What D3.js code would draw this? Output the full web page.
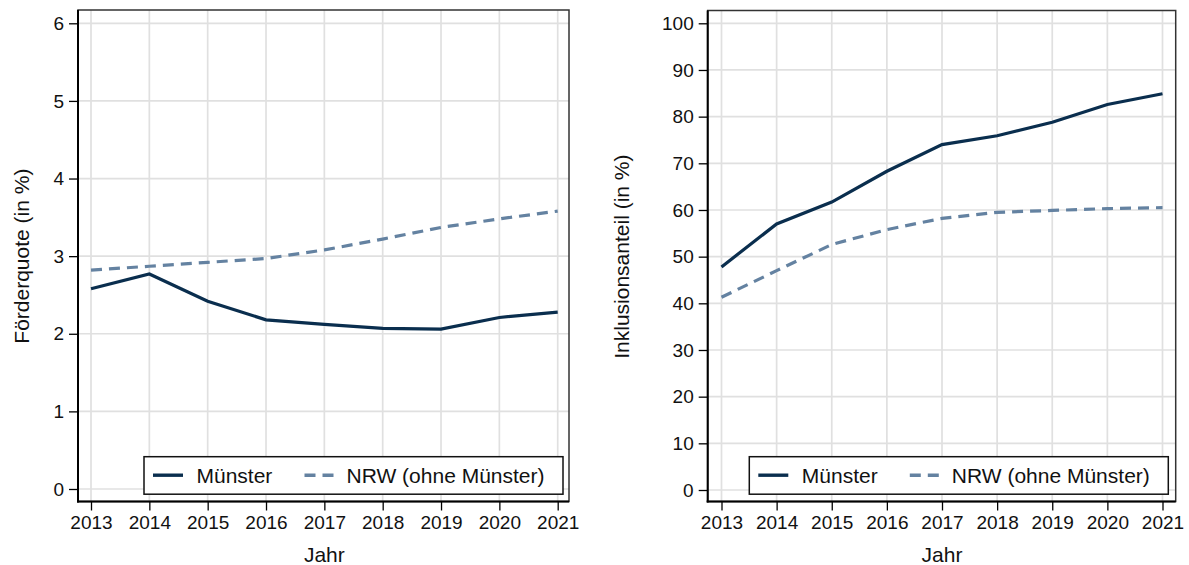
<!DOCTYPE html>
<html>
<head>
<meta charset="utf-8">
<script src="https://cdn.jsdelivr.net/npm/d3@7"></script>
<style>
  html, body { margin: 0; padding: 0; background: #fff; }
  svg { display: block; font-family: "Liberation Sans", Arial, sans-serif; }
</style>
</head>
<body>
<svg id="chart" width="1189" height="565"></svg>
<script>
const years = [2013, 2014, 2015, 2016, 2017, 2018, 2019, 2020, 2021];
const seriesNames = ["Münster", "NRW (ohne Münster)"];

const foerderMuenster = [2.58, 2.77, 2.42, 2.18, 2.12, 2.07, 2.06, 2.21, 2.28];
const foerderNRW      = [2.82, 2.87, 2.92, 2.97, 3.08, 3.22, 3.37, 3.48, 3.58];
const foerderTicks    = [0, 1, 2, 3, 4, 5, 6];

const inklMuenster = [47.8, 57.0, 61.7, 68.3, 74.0, 75.9, 78.8, 82.6, 84.9];
const inklNRW      = [41.3, 47.0, 52.6, 55.8, 58.2, 59.5, 59.9, 60.3, 60.5];
const inklTicks    = [0, 10, 20, 30, 40, 50, 60, 70, 80, 90, 100];

const xTitle = "Jahr";
const yTitles = ["Förderquote (in %)", "Inklusionsanteil (in %)"];

const colMuenster = "#0a2e4e";
const colNRW = "#6482a1";
const tickFont = 19;
const labelFont = 21;

const svg = d3.select("#chart");

function panel(cfg) {
  const g = svg.append("g");
  const x = d3.scaleLinear().domain([2013, 2021]).range([cfg.x0, cfg.x1]);
  const y = d3.scaleLinear().domain([0, cfg.ymax]).range([cfg.y0, cfg.y1]);

  // gridlines
  g.append("g").selectAll("line").data(years).join("line")
    .attr("x1", d => x(d)).attr("x2", d => x(d))
    .attr("y1", cfg.top).attr("y2", cfg.bottom)
    .attr("stroke", "#e0e0e0").attr("stroke-width", 1.7);
  g.append("g").selectAll("line").data(cfg.ticks).join("line")
    .attr("x1", cfg.left).attr("x2", cfg.right)
    .attr("y1", d => y(d)).attr("y2", d => y(d))
    .attr("stroke", "#e0e0e0").attr("stroke-width", 1.7);

  // lines
  const line = d3.line().x((d, i) => x(years[i])).y(d => y(d));
  g.append("path").datum(cfg.nrw).attr("d", line)
    .attr("fill", "none").attr("stroke", colNRW).attr("stroke-width", 3.2)
    .attr("stroke-dasharray", "11,7");
  g.append("path").datum(cfg.ms).attr("d", line)
    .attr("fill", "none").attr("stroke", colMuenster).attr("stroke-width", 3.2);

  // frame
  g.append("rect").attr("x", cfg.left).attr("y", cfg.top)
    .attr("width", cfg.right - cfg.left).attr("height", cfg.bottom - cfg.top)
    .attr("fill", "none").attr("stroke", "#333").attr("stroke-width", 1.5);
  g.append("line").attr("x1", cfg.left).attr("x2", cfg.left)
    .attr("y1", cfg.top).attr("y2", cfg.bottom + 1)
    .attr("stroke", "#000").attr("stroke-width", 2);
  g.append("line").attr("x1", cfg.left - 1).attr("x2", cfg.right)
    .attr("y1", cfg.bottom).attr("y2", cfg.bottom)
    .attr("stroke", "#000").attr("stroke-width", 2);

  // axes
  const yAxis = d3.axisLeft(y).tickValues(cfg.ticks).tickSize(9).tickPadding(5)
    .tickFormat(d3.format("d"));
  const ya = g.append("g").attr("transform", `translate(${cfg.left},0)`).call(yAxis);
  ya.select(".domain").remove();
  ya.selectAll(".tick line").attr("stroke", "#000").attr("stroke-width", 1.3);
  ya.selectAll(".tick text").attr("font-size", tickFont).attr("fill", "#111")
    .attr("font-family", "Liberation Sans, Arial, sans-serif");

  const xAxis = d3.axisBottom(x).tickValues(years).tickSize(9).tickPadding(5)
    .tickFormat(d3.format("d"));
  const xa = g.append("g").attr("transform", `translate(0,${cfg.bottom})`).call(xAxis);
  xa.select(".domain").remove();
  xa.selectAll(".tick line").attr("stroke", "#000").attr("stroke-width", 1.3);
  xa.selectAll(".tick text").attr("font-size", tickFont).attr("fill", "#111")
    .attr("font-family", "Liberation Sans, Arial, sans-serif");

  // titles
  g.append("text").attr("x", (cfg.x0 + cfg.x1) / 2).attr("y", 562)
    .attr("text-anchor", "middle").attr("font-size", labelFont).attr("fill", "#111")
    .text(xTitle);
  g.append("text")
    .attr("transform", `translate(${cfg.ytx},${(cfg.y0 + cfg.y1) / 2}) rotate(-90)`)
    .attr("text-anchor", "middle").attr("dy", "0.35em")
    .attr("font-size", labelFont).attr("fill", "#111")
    .text(cfg.ytitle);

  // legend
  const lg = g.append("g").attr("transform", `translate(${cfg.legX},${cfg.legY})`);
  lg.append("rect").attr("x", 0).attr("y", 0).attr("width", 419).attr("height", 37.5)
    .attr("fill", "#fff").attr("stroke", "#111").attr("stroke-width", 1.5);
  const items = [
    {name: seriesNames[0], col: colMuenster, dash: null, lx: 9, tx: 52.5},
    {name: seriesNames[1], col: colNRW, dash: "11,7", lx: 160.5, tx: 202.5}
  ];
  items.forEach(it => {
    lg.append("line").attr("x1", it.lx).attr("x2", it.lx + 30)
      .attr("y1", 18.5).attr("y2", 18.5)
      .attr("stroke", it.col).attr("stroke-width", 3.4)
      .attr("stroke-dasharray", it.dash);
    lg.append("text").attr("x", it.tx).attr("y", 18.5).attr("dy", "0.35em")
      .attr("font-size", labelFont).attr("fill", "#111").text(it.name);
  });
}

panel({
  left: 78, right: 569, top: 10, bottom: 501.5,
  x0: 91, x1: 557.7, y0: 489, y1: 23.3, ymax: 6,
  ticks: foerderTicks, ms: foerderMuenster, nrw: foerderNRW,
  ytitle: yTitles[0], ytx: 22, legX: 144, legY: 456.7
});
panel({
  left: 707.7, right: 1175.7, top: 10.5, bottom: 501.5,
  x0: 721.5, x1: 1162.5, y0: 490, y1: 23.3, ymax: 100,
  ticks: inklTicks, ms: inklMuenster, nrw: inklNRW,
  ytitle: yTitles[1], ytx: 622, legX: 749.3, legY: 456.7
});
</script>
</body>
</html>
